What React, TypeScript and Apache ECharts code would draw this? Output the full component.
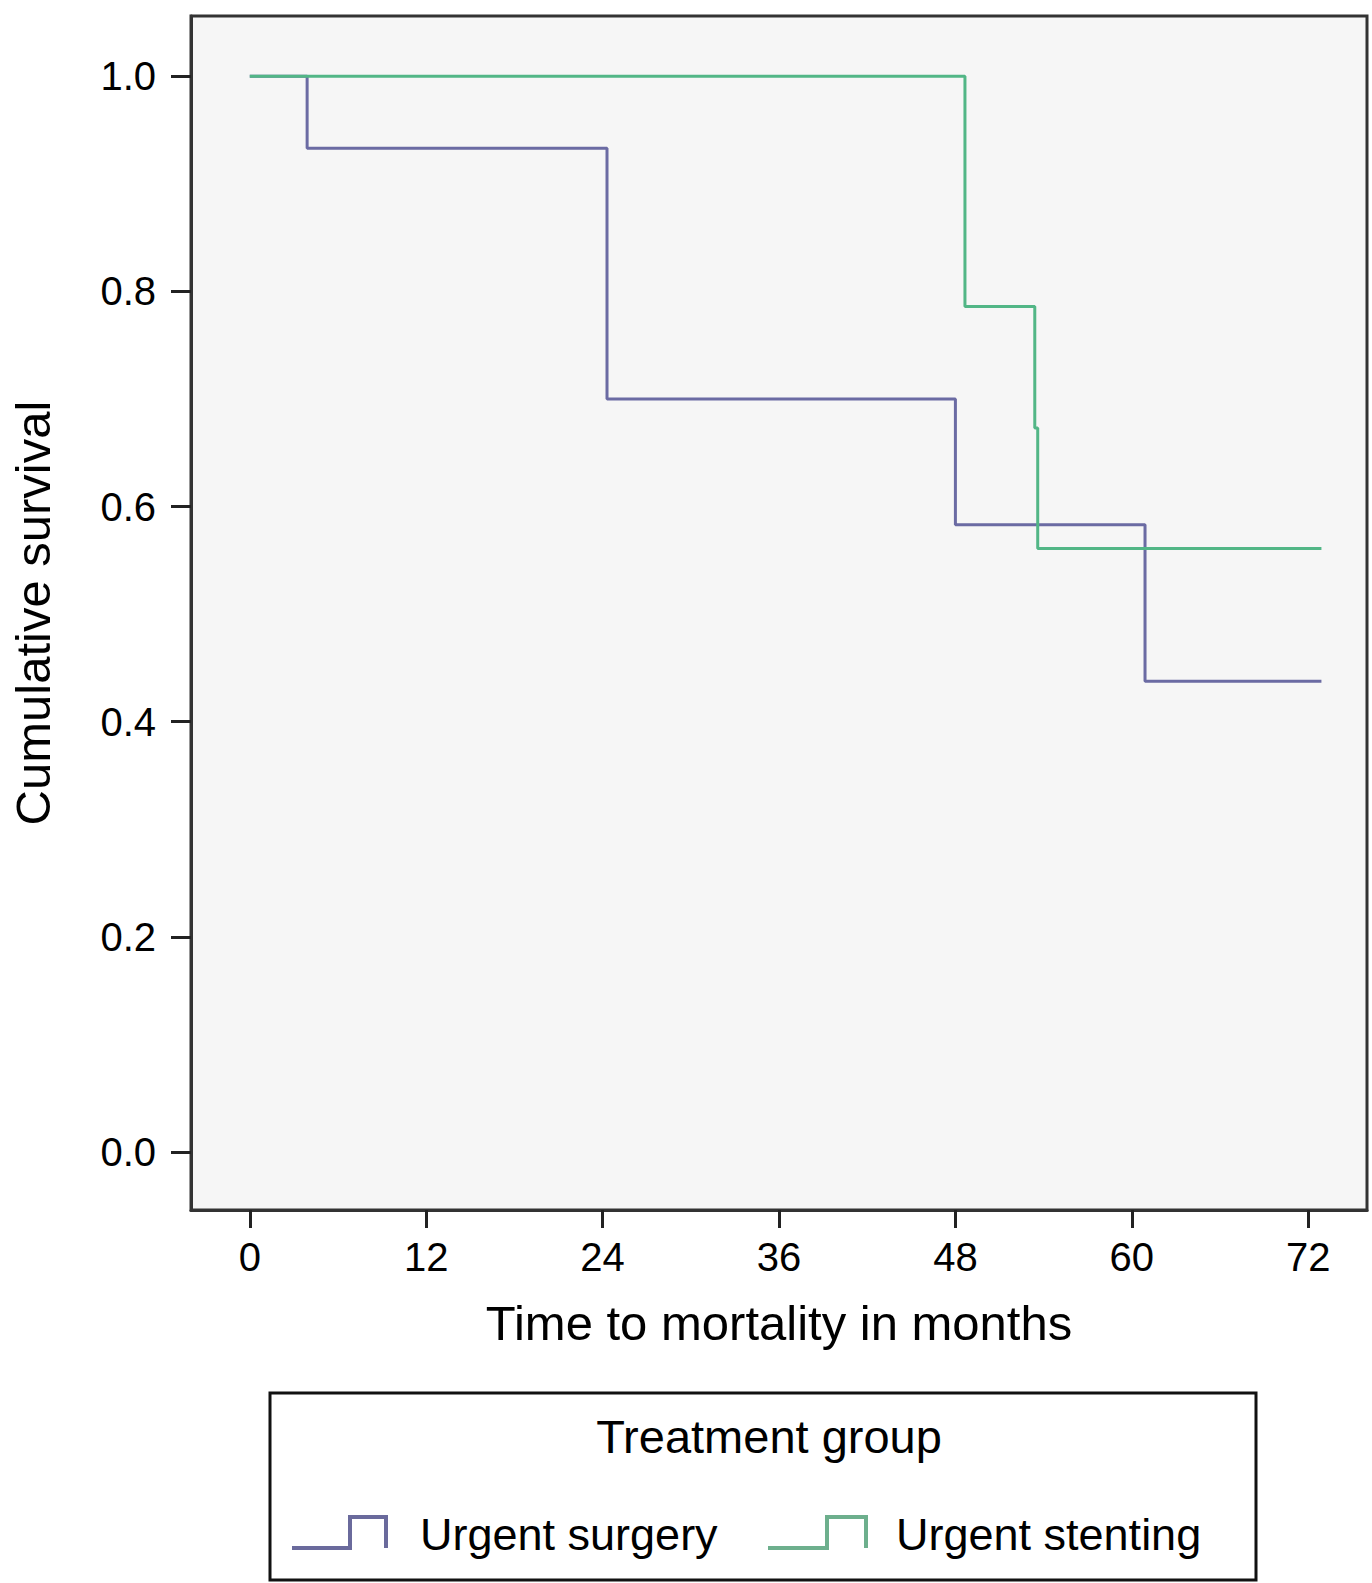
import React, { useEffect, useRef } from "react";
import * as echarts from "echarts";

// Kaplan–Meier step data (months, cumulative survival)
const surgeryTimes = [0, 3.9, 24.3, 48.0, 60.9, 72.9];
const surgerySurvival = [1.0, 0.933, 0.7, 0.583, 0.4375, 0.4375];
const stentingTimes = [0, 48.65, 53.4, 53.6, 72.9];
const stentingSurvival = [1.0, 0.786, 0.673, 0.561, 0.561];

const xTicks = [0, 12, 24, 36, 48, 60, 72];
const yTicks = [0, 0.2, 0.4, 0.6, 0.8, 1.0];

const seriesNames = ["Urgent surgery", "Urgent stenting"];
const legendTitle = "Treatment group";
const xAxisTitle = "Time to mortality in months";
const yAxisTitle = "Cumulative survival";

const SURGERY_COLOR = "#6b6ba3";
const STENTING_COLOR = "#52b686";
const FONT = "Liberation Sans, Arial, Helvetica, sans-serif";

const zip = (xs: number[], ys: number[]) => xs.map((x, i) => [x, ys[i]]);

export default function App() {
  const ref = useRef<HTMLDivElement>(null);
  useEffect(() => {
    if (!ref.current) return;
    const chart = echarts.init(ref.current, undefined, { renderer: "svg" });
    chart.setOption({
      animation: false,
      backgroundColor: "#ffffff",
      textStyle: { fontFamily: FONT },
      grid: {
        left: 177,
        top: 16,
        right: 5,
        bottom: 373,
        show: true,
        backgroundColor: "#f6f6f6",
        borderColor: "#333333",
        borderWidth: 3,
        containLabel: false,
      },
      xAxis: {
        type: "value",
        min: -4,
        max: 76,
        name: xAxisTitle,
        nameLocation: "middle",
        nameGap: 88,
        nameTextStyle: { fontSize: 49, color: "#000", fontFamily: FONT },
        splitLine: { show: false },
        axisLine: { show: true, onZero: false, lineStyle: { color: "#333", width: 3 } },
        axisTick: {
          show: true,
          customValues: xTicks,
          length: 18,
          lineStyle: { color: "#222", width: 3 },
        },
        axisLabel: {
          customValues: xTicks,
          fontSize: 40,
          color: "#000",
          margin: 27,
          fontFamily: FONT,
        },
      },
      yAxis: {
        type: "value",
        min: -0.054,
        max: 1.056,
        name: yAxisTitle,
        nameLocation: "middle",
        nameGap: 134,
        nameTextStyle: { fontSize: 49, color: "#000", fontFamily: FONT },
        splitLine: { show: false },
        axisLine: { show: true, onZero: false, lineStyle: { color: "#333", width: 3 } },
        axisTick: {
          show: true,
          customValues: yTicks,
          length: 20,
          lineStyle: { color: "#222", width: 3 },
        },
        axisLabel: {
          customValues: yTicks,
          fontSize: 40,
          color: "#000",
          margin: 35,
          fontFamily: FONT,
          formatter: (v: number) => v.toFixed(1),
        },
      },
      series: [
        {
          name: seriesNames[0],
          type: "line",
          step: "end",
          data: zip(surgeryTimes, surgerySurvival),
          showSymbol: false,
          symbol: "none",
          lineStyle: { color: SURGERY_COLOR, width: 3 },
          z: 3,
        },
        {
          name: seriesNames[1],
          type: "line",
          step: "end",
          data: zip(stentingTimes, stentingSurvival),
          showSymbol: false,
          symbol: "none",
          lineStyle: { color: STENTING_COLOR, width: 3 },
          z: 4,
        },
      ],
      graphic: [
        {
          type: "rect",
          shape: { x: 270, y: 1393, width: 986, height: 187 },
          style: { fill: "#ffffff", stroke: "#111111", lineWidth: 3 },
        },
        {
          type: "text",
          x: 769,
          y: 1436,
          style: {
            text: legendTitle,
            fontSize: 47,
            fontFamily: FONT,
            fill: "#000",
            textAlign: "center",
            textVerticalAlign: "middle",
          },
        },
        {
          type: "polyline",
          shape: {
            points: [
              [292, 1548],
              [350, 1548],
              [350, 1517],
              [386, 1517],
              [386, 1548],
            ],
          },
          style: { stroke: "#6a6a9c", lineWidth: 4, fill: null },
        },
        {
          type: "text",
          x: 420,
          y: 1534,
          style: {
            text: seriesNames[0],
            fontSize: 45,
            fontFamily: FONT,
            fill: "#000",
            textAlign: "left",
            textVerticalAlign: "middle",
          },
        },
        {
          type: "polyline",
          shape: {
            points: [
              [768, 1548],
              [827, 1548],
              [827, 1517],
              [866, 1517],
              [866, 1548],
            ],
          },
          style: { stroke: "#6daf8d", lineWidth: 4, fill: null },
        },
        {
          type: "text",
          x: 896,
          y: 1534,
          style: {
            text: seriesNames[1],
            fontSize: 45,
            fontFamily: FONT,
            fill: "#000",
            textAlign: "left",
            textVerticalAlign: "middle",
          },
        },
      ],
    });
    return () => chart.dispose();
  }, []);
  return (
    <div
      ref={ref}
      style={{ position: "absolute", left: 0, top: 0, width: 1372, height: 1583 }}
    />
  );
}
